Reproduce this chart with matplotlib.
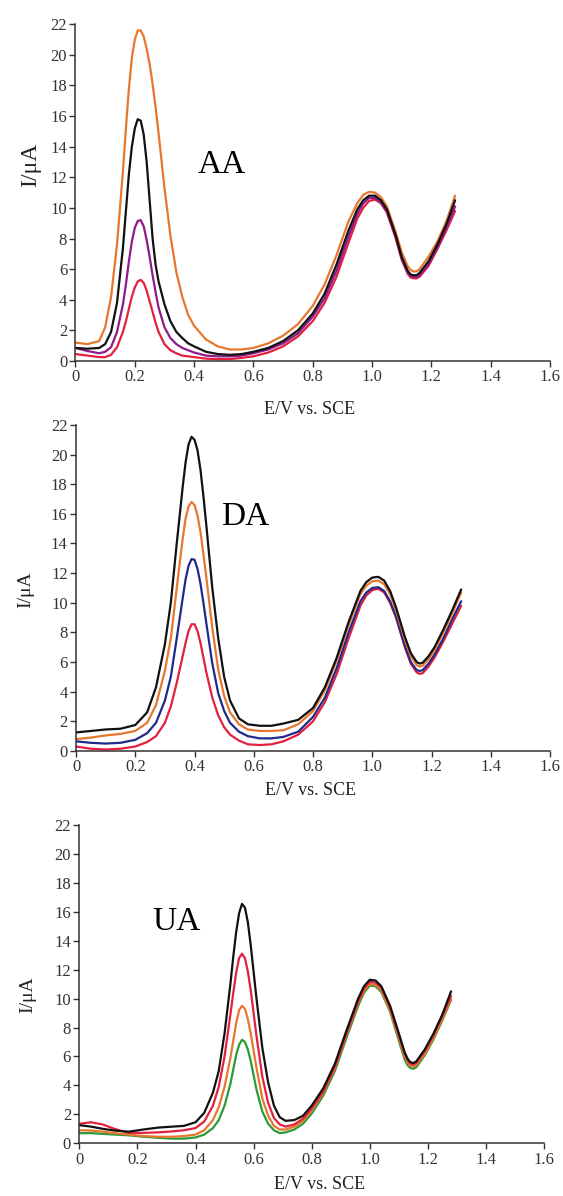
import matplotlib
matplotlib.use("Agg")
import matplotlib.pyplot as plt

plt.rcParams['font.family'] = ['Liberation Serif', 'DejaVu Serif']

# ---- AA panel ----
x_aa = [0.00, 0.04, 0.08, 0.10, 0.12, 0.14, 0.16, 0.17, 0.18, 0.19, 0.20, 0.21, 0.22, 0.23,
        0.24, 0.25, 0.26, 0.27, 0.28, 0.30, 0.32, 0.34, 0.36, 0.38, 0.40, 0.44, 0.48, 0.52,
        0.56, 0.60, 0.65, 0.70, 0.75, 0.80, 0.84, 0.88, 0.92, 0.95, 0.97, 0.99, 1.01, 1.03,
        1.05, 1.08, 1.10, 1.12, 1.13, 1.14, 1.15, 1.16, 1.19, 1.22, 1.25, 1.28]
aa_orange = [1.2, 1.1, 1.3, 2.2, 4.2, 7.6, 12.4, 15.2, 17.8, 19.8, 21.0, 21.6, 21.6, 21.2,
             20.4, 19.4, 18.1, 16.6, 14.9, 11.3, 8.2, 5.8, 4.2, 3.0, 2.3, 1.4, 0.95, 0.75,
             0.75, 0.85, 1.15, 1.65, 2.4, 3.6, 5.0, 6.9, 9.1, 10.3, 10.85, 11.05, 11.0, 10.7,
             10.1, 8.4, 7.1, 6.2, 5.95, 5.85, 5.85, 6.0, 6.8, 7.8, 9.1, 10.8]
aa_black = [0.85, 0.8, 0.85, 1.1, 1.9, 3.8, 7.4, 9.8, 12.2, 14.0, 15.2, 15.8, 15.7, 14.8,
            13.0, 10.5, 8.0, 6.3, 5.2, 3.7, 2.6, 1.9, 1.5, 1.15, 0.95, 0.6, 0.45, 0.4,
            0.45, 0.6, 0.85, 1.3, 2.0, 3.1, 4.4, 6.3, 8.5, 9.9, 10.5, 10.8, 10.8, 10.5,
            9.9, 8.2, 6.8, 5.9, 5.65, 5.6, 5.6, 5.75, 6.5, 7.6, 8.9, 10.5]
aa_purple = [0.85, 0.65, 0.5, 0.6, 0.9, 1.9, 3.7, 5.0, 6.5, 7.8, 8.7, 9.15, 9.2, 8.8,
             7.9, 6.8, 5.6, 4.5, 3.5, 2.2, 1.5, 1.1, 0.85, 0.7, 0.55, 0.35, 0.3, 0.3,
             0.35, 0.5, 0.75, 1.15, 1.8, 2.9, 4.1, 5.9, 8.1, 9.6, 10.3, 10.65, 10.65, 10.35,
             9.8, 8.1, 6.7, 5.8, 5.55, 5.5, 5.5, 5.6, 6.3, 7.4, 8.7, 10.1]
aa_red = [0.45, 0.35, 0.25, 0.25, 0.4, 0.9, 1.9, 2.6, 3.4, 4.2, 4.8, 5.2, 5.3, 5.1,
          4.6, 3.9, 3.2, 2.5, 1.9, 1.1, 0.7, 0.5, 0.35, 0.3, 0.25, 0.15, 0.12, 0.12,
          0.2, 0.3, 0.55, 0.95, 1.6, 2.6, 3.8, 5.5, 7.7, 9.3, 10.0, 10.45, 10.55, 10.3,
          9.7, 8.0, 6.6, 5.7, 5.45, 5.4, 5.4, 5.5, 6.2, 7.3, 8.5, 9.8]

# ---- DA panel ----
x_da = [0.00, 0.05, 0.10, 0.15, 0.20, 0.24, 0.27, 0.30, 0.32, 0.34, 0.36, 0.37, 0.38, 0.39,
        0.40, 0.41, 0.42, 0.43, 0.44, 0.46, 0.48, 0.50, 0.52, 0.55, 0.58, 0.62, 0.66, 0.70,
        0.75, 0.80, 0.84, 0.88, 0.92, 0.96, 0.98, 1.00, 1.02, 1.04, 1.06, 1.08, 1.11, 1.13,
        1.15, 1.16, 1.17, 1.19, 1.21, 1.24, 1.27, 1.30]
da_black = [1.25, 1.35, 1.45, 1.5, 1.75, 2.6, 4.3, 7.2, 10.0, 14.0, 17.8, 19.5, 20.7, 21.2,
            21.0, 20.3, 19.0, 17.2, 15.2, 11.0, 7.6, 5.0, 3.4, 2.2, 1.8, 1.7, 1.7, 1.85,
            2.1, 2.9, 4.3, 6.3, 8.7, 10.8, 11.4, 11.7, 11.75, 11.5, 10.8, 9.7, 7.7, 6.6,
            6.0, 5.9, 5.95, 6.4, 7.0, 8.2, 9.5, 10.9]
da_orange = [0.8, 0.9, 1.05, 1.15, 1.35, 1.9, 3.1, 5.4, 7.6, 11.0, 14.3, 15.7, 16.5, 16.8,
             16.6, 15.9, 14.8, 13.3, 11.7, 8.3, 5.5, 3.7, 2.6, 1.8, 1.45, 1.35, 1.35, 1.4,
             1.8, 2.7, 4.1, 6.1, 8.5, 10.6, 11.15, 11.45, 11.5, 11.25, 10.6, 9.5, 7.5, 6.4,
             5.8, 5.7, 5.75, 6.2, 6.8, 8.0, 9.3, 10.7]
da_blue = [0.65, 0.55, 0.5, 0.55, 0.75, 1.2, 1.9, 3.4, 5.0, 7.6, 10.3, 11.6, 12.5, 12.95,
           12.9, 12.3, 11.3, 10.0, 8.6, 5.9, 3.9, 2.7, 1.9, 1.3, 1.0, 0.85, 0.85, 0.95,
           1.3, 2.3, 3.6, 5.6, 8.0, 10.1, 10.7, 11.0, 11.05, 10.8, 10.1, 9.1, 7.1, 6.0,
           5.45, 5.4, 5.45, 5.9, 6.5, 7.6, 8.9, 10.1]
da_red = [0.3, 0.15, 0.1, 0.15, 0.3, 0.6, 1.0, 1.9, 3.0, 4.6, 6.4, 7.3, 8.1, 8.55,
          8.55, 8.1, 7.3, 6.3, 5.3, 3.6, 2.4, 1.6, 1.1, 0.7, 0.45, 0.4, 0.45, 0.65,
          1.1, 2.0, 3.3, 5.2, 7.6, 9.8, 10.5, 10.85, 10.95, 10.7, 10.0, 9.0, 7.0, 5.9,
          5.3, 5.2, 5.25, 5.7, 6.3, 7.4, 8.6, 9.8]

# ---- UA panel ----
x_ua = [0.00, 0.04, 0.08, 0.12, 0.17, 0.22, 0.27, 0.32, 0.36, 0.40, 0.43, 0.46, 0.48, 0.50,
        0.52, 0.53, 0.54, 0.55, 0.56, 0.57, 0.58, 0.59, 0.61, 0.63, 0.65, 0.67, 0.69, 0.71,
        0.74, 0.77, 0.80, 0.84, 0.88, 0.92, 0.96, 0.98, 1.00, 1.02, 1.04, 1.07, 1.10, 1.12,
        1.13, 1.14, 1.15, 1.16, 1.19, 1.22, 1.25, 1.28]
ua_black = [1.25, 1.15, 1.0, 0.88, 0.8, 0.95, 1.08, 1.15, 1.2, 1.45, 2.1, 3.5, 5.0, 7.6,
            11.0, 12.9, 14.6, 15.9, 16.55, 16.3, 15.3, 13.7, 10.0, 6.6, 4.2, 2.6, 1.8, 1.55,
            1.6, 1.9, 2.6, 3.8, 5.5, 7.8, 10.0, 10.85, 11.3, 11.25, 10.85, 9.5, 7.6, 6.3,
            5.85, 5.6, 5.55, 5.65, 6.5, 7.6, 8.9, 10.5]
ua_red = [1.35, 1.45, 1.3, 1.0, 0.72, 0.72, 0.75, 0.82, 0.9, 1.05, 1.5, 2.6, 3.9, 6.0,
          8.9, 10.4, 11.8, 12.8, 13.1, 12.8, 11.9, 10.6, 7.4, 4.6, 2.8, 1.75, 1.3, 1.15,
          1.3, 1.7, 2.4, 3.6, 5.3, 7.6, 9.8, 10.7, 11.15, 11.1, 10.75, 9.4, 7.5, 6.2,
          5.75, 5.5, 5.45, 5.55, 6.4, 7.5, 8.8, 10.2]
ua_orange = [0.9, 0.88, 0.8, 0.7, 0.6, 0.5, 0.45, 0.45, 0.5, 0.6, 0.9, 1.6, 2.5, 3.9,
             5.9, 7.1, 8.3, 9.2, 9.5, 9.3, 8.6, 7.6, 5.2, 3.1, 1.9, 1.2, 0.95, 0.95,
             1.15, 1.55, 2.25, 3.5, 5.2, 7.5, 9.7, 10.55, 11.0, 10.95, 10.55, 9.2, 7.3, 6.0,
             5.6, 5.35, 5.3, 5.4, 6.2, 7.3, 8.6, 10.0]
ua_green = [0.7, 0.7, 0.65, 0.6, 0.55, 0.45, 0.38, 0.32, 0.32, 0.4, 0.6, 1.05, 1.6, 2.6,
            4.1, 5.1, 6.1, 6.8, 7.15, 7.0, 6.5, 5.7, 3.7, 2.2, 1.35, 0.9, 0.7, 0.75,
            0.95, 1.35, 2.05, 3.3, 5.0, 7.3, 9.5, 10.4, 10.9, 10.85, 10.45, 9.1, 7.1, 5.8,
            5.4, 5.2, 5.15, 5.25, 6.1, 7.2, 8.5, 9.9]

ORANGE = '#e8772e'
BLACK = '#111111'
PURPLE = '#8e1a8c'
RED = '#e3203f'
BLUE = '#1f2a8a'
GREEN = '#2a9a3a'

fig = plt.figure(figsize=(5.63, 11.96), dpi=100)
ax1 = fig.add_axes([0.1341, 0.6982, 0.8428, 0.2815])
ax2 = fig.add_axes([0.1350, 0.3721, 0.8420, 0.2726])
ax3 = fig.add_axes([0.1410, 0.0441, 0.8252, 0.2661])

lw = 1.6
kw = dict(lw=lw, solid_joinstyle='round', solid_capstyle='round')
ax1.plot(x_aa, aa_orange, color=ORANGE, **kw)
ax1.plot(x_aa, aa_red, color=RED, **kw)
ax1.plot(x_aa, aa_purple, color=PURPLE, **kw)
ax1.plot(x_aa, aa_black, color=BLACK, **kw)

ax2.plot(x_da, da_red, color=RED, **kw)
ax2.plot(x_da, da_blue, color=BLUE, **kw)
ax2.plot(x_da, da_orange, color=ORANGE, **kw)
ax2.plot(x_da, da_black, color=BLACK, **kw)

ax3.plot(x_ua, ua_green, color=GREEN, **kw)
ax3.plot(x_ua, ua_orange, color=ORANGE, **kw)
ax3.plot(x_ua, ua_red, color=RED, **kw)
ax3.plot(x_ua, ua_black, color=BLACK, **kw)

xticks = [0, 0.2, 0.4, 0.6, 0.8, 1.0, 1.2, 1.4, 1.6]
xtick_labels = ['0', '0.2', '0.4', '0.6', '0.8', '1.0', '1.2', '1.4', '1.6']
yticks = [0, 2, 4, 6, 8, 10, 12, 14, 16, 18, 20, 22]

for ax in (ax1, ax2, ax3):
    ax.set_xlim(0, 1.6)
    ax.set_ylim(0, 22)
    ax.set_xticks(xticks)
    ax.set_xticklabels(xtick_labels)
    ax.set_yticks(yticks)
    ax.spines['top'].set_visible(False)
    ax.spines['right'].set_visible(False)
    ax.spines['left'].set_color('#333333')
    ax.spines['bottom'].set_color('#333333')
    ax.spines['left'].set_linewidth(1.1)
    ax.spines['bottom'].set_linewidth(1.1)
    ax.tick_params(direction='out', length=4, width=1, color='#333333',
                   labelsize=12, labelcolor='#333333', pad=2)
    ax.set_xlabel('E/V vs. SCE', fontsize=13, color='#222222')

ax1.set_ylabel('I/μA', fontsize=17, color='#222222')
ax2.set_ylabel('I/μA', fontsize=14, color='#222222')
ax3.set_ylabel('I/μA', fontsize=14, color='#222222')

ax1.yaxis.set_label_coords(-0.095, 0.582)
ax2.yaxis.set_label_coords(-0.106, 0.494)
ax3.yaxis.set_label_coords(-0.111, 0.466)
ax1.xaxis.set_label_coords(0.494, -0.119)
ax2.xaxis.set_label_coords(0.494, -0.095)
ax3.xaxis.set_label_coords(0.518, -0.103)
for ax in (ax1, ax2, ax3):
    ax.yaxis.label.set_va('center')
    ax.xaxis.label.set_va('top')

ax1.text(0.494, 12.8, 'AA', fontsize=24, ha='center', va='center')
ax2.text(0.570, 15.8, 'DA', fontsize=24, ha='center', va='center')
ax3.text(0.335, 15.3, 'UA', fontsize=24, ha='center', va='center')

fig.savefig('out.png', dpi=100)
